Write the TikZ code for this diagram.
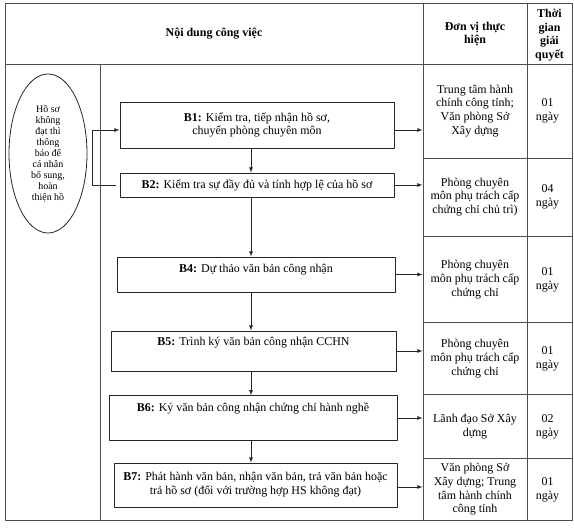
\documentclass[tikz,border=0pt]{standalone}
\usepackage{fontspec}
\setmainfont{Liberation Serif}
\usetikzlibrary{shapes.geometric}
\tikzset{
  stepbox/.style={draw=black!85, line width=0.9bp, rectangle, inner sep=2bp, align=center,
    font=\fontsize{12}{13.8}\selectfont},
  celltext/.style={align=center, inner sep=0pt, font=\fontsize{12}{13.8}\selectfont},
  headtext/.style={align=center, inner sep=0pt, font=\fontsize{12}{13.5}\selectfont\bfseries},
  gridline/.style={draw=black!70, line width=0.8bp},
  flow/.style={->, draw=black!85, line width=0.8bp},
}
\begin{document}
\begin{tikzpicture}[>=latex,line join=bevel,x=1bp,y=1bp]
  \useasboundingbox (0,0) rectangle (574,529);
%%
  % Table: frame, header and columns
  \draw[gridline] (5,9) rectangle (572,526);
  \draw[gridline] (5,465) -- (572,465);
  \draw[gridline] (100,465) -- (100,9);
  \draw[gridline] (423,526) -- (423,9);
  \draw[gridline] (527,526) -- (527,9);
  \foreach \y in {371,293,206.5,134.5,71}
    \draw[gridline] (423,\y) -- (572,\y);
  % Header
  \node[headtext] (hdrtask) at (214,495.5) {Nội dung công việc};
  \node[headtext] (hdrunit) at (475,495) {Đơn vị thực\\hiện};
  \node[headtext] (hdrtime) at (549.5,494) {Thời\\gian\\giải\\quyết};
  % Helper coordinates
  \coordinate (spine) at (251,0);
  \coordinate (ucol) at (422.5,0);
  \coordinate (loop) at (92,0);
  % Node: reject
  \node[draw=black!85, line width=0.8bp, ellipse, minimum width=78bp, minimum height=159bp,
    inner sep=0pt, align=center, font=\fontsize{10}{11}\selectfont] (reject) at (48,375.5)
    {Hồ sơ\\không\\đạt thì\\thông\\báo để\\cá nhân\\bổ sung,\\hoàn\\thiện hồ};
  % Node: B1
  \node[stepbox, minimum width=274bp, minimum height=46bp] (B1) at (257,404)
    {\textbf{B1:} Kiểm tra, tiếp nhận hồ sơ,\\chuyển phòng chuyên môn};
  % Node: B2
  \node[stepbox, minimum width=274bp, minimum height=24bp] (B2) at (257,344)
    {\textbf{B2:} Kiểm tra sự đầy đủ và tính hợp lệ của hồ sơ};
  % Node: B4
  \node[stepbox, minimum width=278bp, minimum height=35bp, text height=9bp, text depth=13bp] (B4) at (256,254.5)
    {\textbf{B4:} Dự thảo văn bản công nhận};
  % Node: B5
  \node[stepbox, minimum width=285bp, minimum height=40bp, text height=9bp, text depth=20.5bp] (B5) at (253.5,178)
    {\textbf{B5:} Trình ký văn bản công nhận CCHN};
  % Node: B6
  \node[stepbox, minimum width=288bp, minimum height=44.5bp, text height=9bp, text depth=22.5bp] (B6) at (253,111)
    {\textbf{B6:} Ký văn bản công nhận chứng chỉ hành nghề};
  % Node: B7
  \node[stepbox, minimum width=283bp, minimum height=44bp] (B7) at (255.5,44)
    {\textbf{B7:} Phát hành văn bản, nhận văn bản, trả văn bản hoặc\\trả hồ sơ (đối với trường hợp HS không đạt)};
  % Units
  \node[celltext] (unitA) at (475,418) {Trung tâm hành\\chính công tỉnh;\\Văn phòng Sở\\Xây dựng};
  \node[celltext] (unitB) at (475,332) {Phòng chuyên\\môn phụ trách cấp\\chứng chỉ chủ trì)};
  \node[celltext] (unitC) at (475,249.5) {Phòng chuyên\\môn phụ trách cấp\\chứng chỉ};
  \node[celltext] (unitD) at (475,170.5) {Phòng chuyên\\môn phụ trách cấp\\chứng chỉ};
  \node[celltext] (unitE) at (475,102.5) {Lãnh đạo Sở Xây\\dựng};
  \node[celltext] (unitF) at (475,39.5) {Văn phòng Sở\\Xây dựng; Trung\\tâm hành chính\\công tỉnh};
  % Times
  \node[celltext] (timeA) at (547.5,418) {01\\ngày};
  \node[celltext] (timeB) at (547.5,332) {04\\ngày};
  \node[celltext] (timeC) at (547.5,249.5) {01\\ngày};
  \node[celltext] (timeD) at (547.5,170.5) {01\\ngày};
  \node[celltext] (timeE) at (547.5,102.5) {02\\ngày};
  \node[celltext] (timeF) at (547.5,39.5) {01\\ngày};
  % Edge: B1 -> B2 -> B4 -> B5 -> B6 -> B7
  \draw[flow] (B1.south -| spine) -- (B2.north -| spine);
  \draw[flow] (B2.south -| spine) -- (B4.north -| spine);
  \draw[flow] (B4.south -| spine) -- (B5.north -| spine);
  \draw[flow] (B5.south -| spine) -- (B6.north -| spine);
  \draw[flow] (B6.south -| spine) -- (B7.north -| spine);
  % Edge: B2 -> B1 (return loop)
  \draw[flow] ([xshift=-4bp]B2.west) -- (B2.west -| loop) |- ([yshift=-5bp]B1.west);
  % Edge: steps -> units
  \draw[flow] ([yshift=-5bp]B1.east) -- ([yshift=-5bp]B1.east -| ucol);
  \draw[flow] (B2.east) -- (B2.east -| ucol);
  \draw[flow] (B4.east) -- (B4.east -| ucol);
  \draw[flow] (B5.east) -- (B5.east -| ucol);
  \draw[flow] (B6.east) -- (B6.east -| ucol);
  \draw[flow] ([yshift=-2bp]B7.east) -- ([yshift=-2bp]B7.east -| ucol);
%
\end{tikzpicture}
\end{document}
